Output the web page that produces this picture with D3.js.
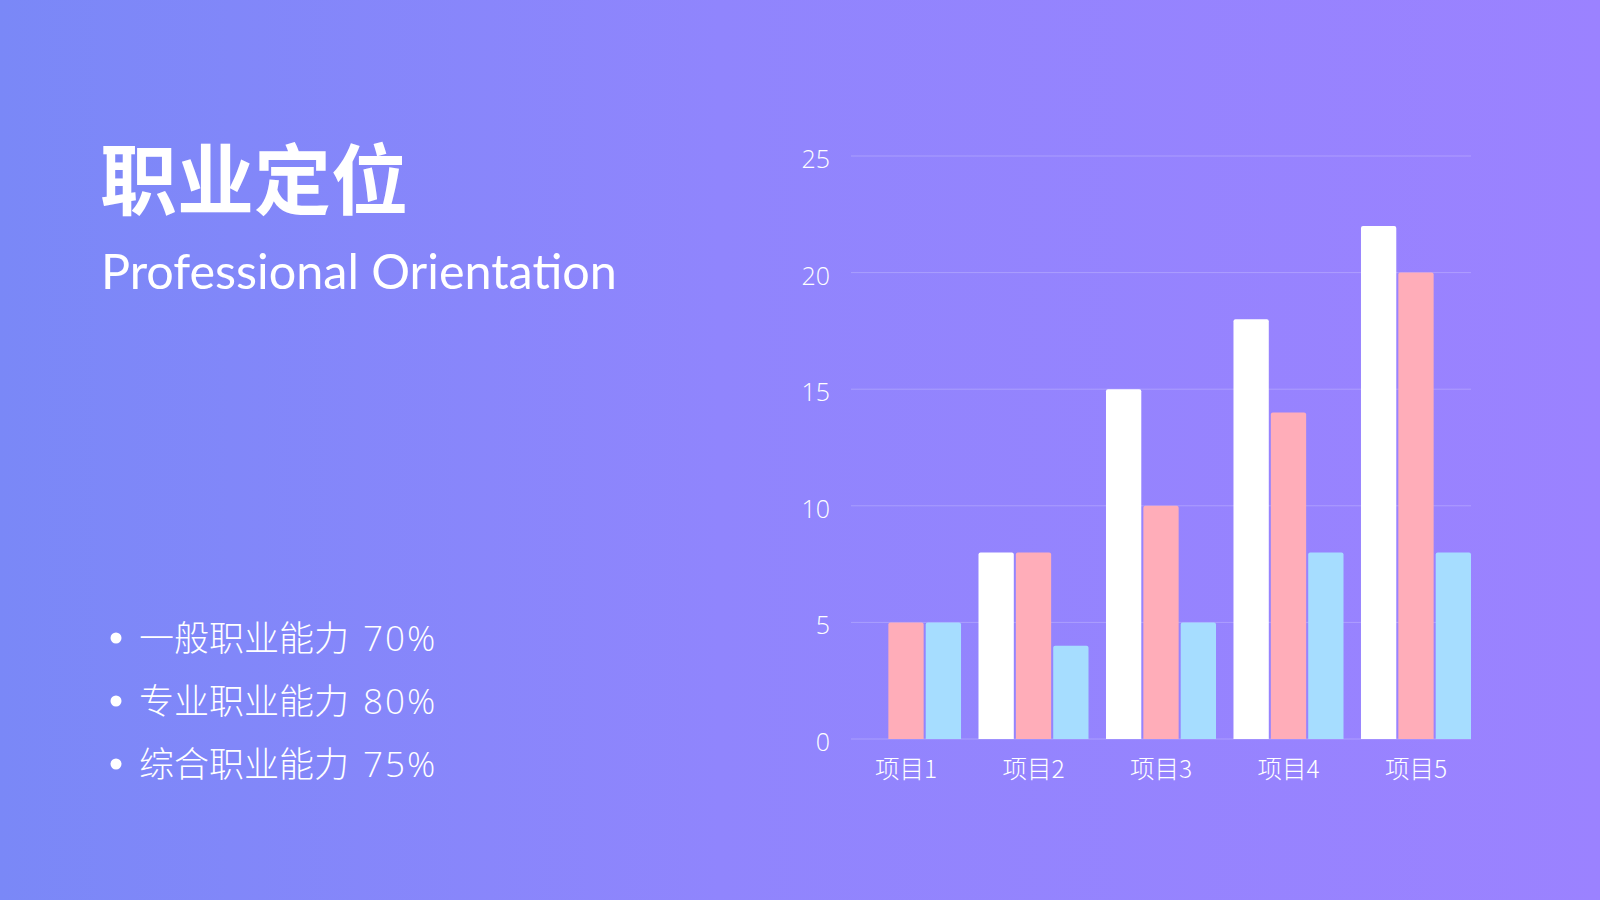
<!DOCTYPE html>
<html>
<head>
<meta charset="utf-8">
<script src="https://cdn.jsdelivr.net/npm/d3@7"></script>
<style>
  html, body { margin: 0; padding: 0; overflow: hidden; }
  svg { display: block; }
</style>
</head>
<body>
<div id="chart"></div>
<script>
// chart data
var categories = ["项目1", "项目2", "项目3", "项目4", "项目5"];
var seriesNames = ["系列1", "系列2", "系列3"];
var series1 = [0, 8, 15, 18, 22];
var series2 = [5, 8, 10, 14, 20];
var series3 = [5, 4, 5, 8, 8];
var yTicks = [0, 5, 10, 15, 20, 25];
var bulletLabels = ["一般职业能力", "专业职业能力", "综合职业能力"];
var bulletValues = ["70%", "80%", "75%"];

var width = 1600, height = 900;
var colors = ["#ffffff", "#ffadb9", "#a6ddff"];
var cjk = "'Noto Sans CJK SC', 'Noto Sans', sans-serif";
var latin = "'Open Sans', 'Noto Sans', sans-serif";

var svg = d3.select("#chart")
  .append("svg")
  .attr("width", width)
  .attr("height", height);

// background gradient
var grad = svg.append("defs").append("linearGradient")
  .attr("id", "bg")
  .attr("x1", "0%").attr("y1", "0%")
  .attr("x2", "100%").attr("y2", "0%");
grad.append("stop").attr("offset", "0%").attr("stop-color", "#7a88f7");
grad.append("stop").attr("offset", "45%").attr("stop-color", "#9085fd");
grad.append("stop").attr("offset", "100%").attr("stop-color", "#9b82ff");

svg.append("rect")
  .attr("width", width)
  .attr("height", height)
  .attr("fill", "url(#bg)");

// left side text
svg.append("text")
  .attr("x", 100)
  .attr("y", 209)
  .attr("fill", "#fff")
  .style("font-family", cjk)
  .style("font-weight", 700)
  .style("font-size", "77px")
  .text("职业定位");

svg.append("text")
  .attr("x", 101)
  .attr("y", 289)
  .attr("fill", "#fff")
  .style("font-family", "Lato, 'Noto Sans', sans-serif")
  .style("font-size", "48.5px")
  .text("Professional Orientation");

var list = svg.append("g").selectAll("g")
  .data(bulletLabels)
  .enter()
  .append("g")
  .attr("transform", function(d, i) { return "translate(0," + (638 + i * 63) + ")"; });

list.append("circle")
  .attr("cx", 116)
  .attr("cy", 0)
  .attr("r", 5.5)
  .attr("fill", "#fff");

var lt = list.append("text")
  .attr("x", 139)
  .attr("dy", "0.36em")
  .attr("fill", "#fff")
  .style("font-family", cjk)
  .style("font-weight", 300)
  .style("font-size", "35px");
lt.append("tspan")
  .text(function(d) { return d; });
lt.append("tspan")
  .attr("dx", 14)
  .style("font-family", latin)
  .style("letter-spacing", "2px")
  .text(function(d, i) { return bulletValues[i]; });

// chart scales
var x0 = d3.scaleBand()
  .domain(categories)
  .range([851, 1471])
  .paddingInner(0.137)
  .paddingOuter(0);

var x1 = d3.scaleBand()
  .domain(seriesNames)
  .range([0, x0.bandwidth()])
  .paddingInner(0.055)
  .paddingOuter(0);

var y = d3.scaleLinear()
  .domain([0, 25])
  .range([739, 156]);

// grid lines
svg.append("g")
  .selectAll("line")
  .data(yTicks)
  .enter()
  .append("line")
  .attr("x1", 851)
  .attr("x2", 1471)
  .attr("y1", function(d) { return y(d); })
  .attr("y2", function(d) { return y(d); })
  .attr("stroke", "rgba(255,255,255,0.22)")
  .attr("stroke-width", 1);

// y axis labels
var yAxis = svg.append("g")
  .attr("transform", "translate(830,0)")
  .call(d3.axisLeft(y).tickValues(yTicks).tickSize(0).tickPadding(0));
yAxis.select(".domain").remove();
yAxis.selectAll("text")
  .attr("fill", "#fff")
  .attr("dy", "0.46em")
  .style("font-family", latin)
  .style("font-weight", 300)
  .style("font-size", "25px");

// x axis labels
var xAxis = svg.append("g")
  .attr("transform", "translate(0,739)")
  .call(d3.axisBottom(x0).tickSize(0).tickPadding(22));
xAxis.select(".domain").remove();
xAxis.selectAll("text")
  .attr("fill", "#fff")
  .style("font-family", cjk)
  .style("font-weight", 300)
  .style("font-size", "24.5px");

// bars
var allSeries = [series1, series2, series3];
var groups = svg.append("g")
  .selectAll("g")
  .data(categories)
  .enter()
  .append("g")
  .attr("transform", function(d) { return "translate(" + x0(d) + ",0)"; });

groups.selectAll("path")
  .data(function(d, i) {
    return seriesNames.map(function(s, j) { return { key: s, value: allSeries[j][i], idx: j }; });
  })
  .enter()
  .append("path")
  .filter(function(d) { return d.value > 0; })
  .attr("fill", function(d) { return colors[d.idx]; })
  .attr("d", function(d) {
    var bx = x1(d.key), bw = x1.bandwidth();
    var top = y(d.value), bottom = y(0), r = 2;
    return "M" + bx + "," + bottom +
      "V" + (top + r) +
      "Q" + bx + "," + top + " " + (bx + r) + "," + top +
      "H" + (bx + bw - r) +
      "Q" + (bx + bw) + "," + top + " " + (bx + bw) + "," + (top + r) +
      "V" + bottom + "Z";
  });
</script>
</body>
</html>
